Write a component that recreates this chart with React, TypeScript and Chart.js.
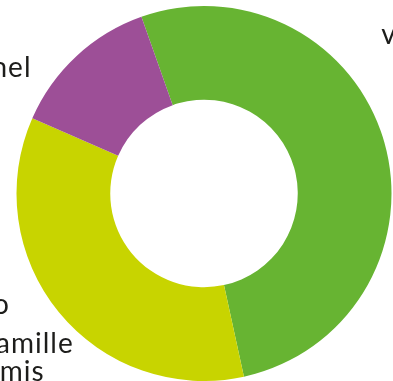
import React, { useEffect, useRef } from "react";
import { Chart, registerables } from "chart.js";

Chart.register(...registerables);

const categories = ["Vie professionnelle", "Vie perso / famille / amis", "Personnel"];
const values = [52, 35, 13];
const colors = ["#67B432", "#C8D400", "#9D4F97"];
const greenLabel = ["vie professionnelle"];
const yellowLabel = ["Vie perso", "famille", "amis"];
const purpleLabel = ["Personnel"];

const labelPlugin = {
  id: "outerLabels",
  afterDraw(chart: any) {
    const arc = chart.getDatasetMeta(0).data[0];
    if (!arc) return;
    const cx = arc.x;
    const cy = arc.y;
    const r = arc.outerRadius;
    const ctx = chart.ctx;
    ctx.save();
    ctx.fillStyle = "#1d1d1b";
    ctx.font = "28px Lato";
    (ctx as any).letterSpacing = "1px";
    ctx.textBaseline = "alphabetic";
    // purple label, upper left
    ctx.textAlign = "right";
    ctx.fillText(purpleLabel[0], cx - r * 0.92, cy - r * 0.62);
    // green label, upper right
    ctx.textAlign = "left";
    ctx.fillText(greenLabel[0], cx + r * 0.945, cy - r * 0.795);
    // yellow label, lower left
    ctx.textAlign = "right";
    ctx.fillText(yellowLabel[0], cx - r * 1.035, cy + r * 0.645);
    ctx.fillText(yellowLabel[1], cx - r * 0.695, cy + r * 0.85);
    ctx.fillText(yellowLabel[2], cx - r * 0.85, cy + r * 1.0);
    ctx.restore();
  },
};

export default function App() {
  const ref = useRef<HTMLCanvasElement | null>(null);
  useEffect(() => {
    document.body.style.margin = "0";
    if (!ref.current) return;
    const chart = new Chart(ref.current, {
      type: "doughnut",
      data: {
        labels: categories,
        datasets: [
          {
            data: values,
            backgroundColor: colors,
            borderWidth: 0,
          },
        ],
      },
      options: {
        animation: false,
        responsive: false,
        rotation: -19.5,
        cutout: "50%",
        layout: { padding: { left: 16, right: 1, top: 6, bottom: 0 } },
        plugins: {
          legend: { display: false },
          tooltip: { enabled: false },
        },
      },
      plugins: [labelPlugin],
    });
    return () => chart.destroy();
  }, []);
  return (
    <div style={{ position: "absolute", left: 0, top: 0, width: 393, height: 381 }}>
      <canvas ref={ref} width={393} height={381} />
    </div>
  );
}
